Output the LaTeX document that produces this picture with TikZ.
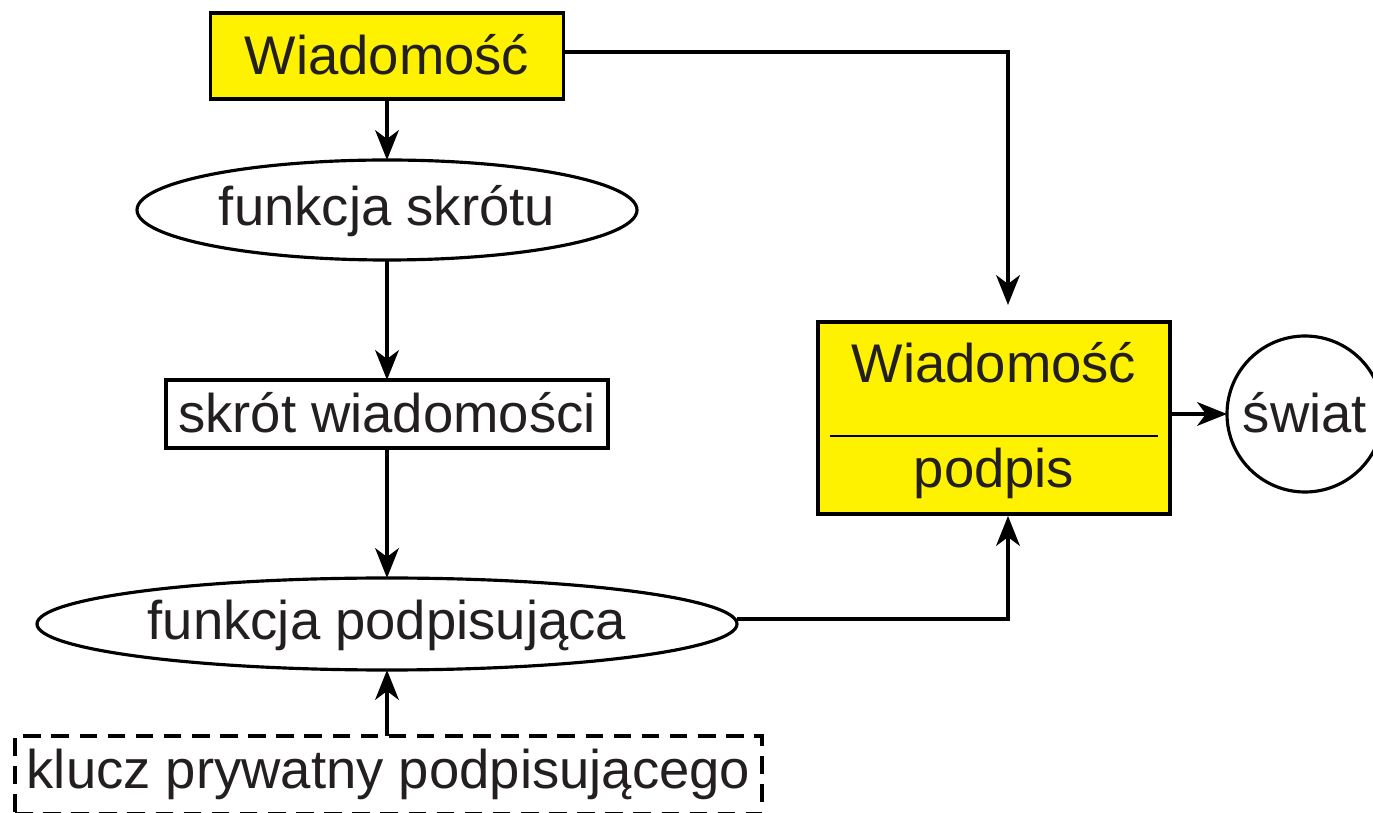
\documentclass[tikz,border=0pt]{standalone}
\usepackage{fontspec}
\setmainfont{Liberation Sans}
\usetikzlibrary{arrows.meta,shapes.geometric}
\definecolor{ink}{RGB}{35,31,32}
\definecolor{msgyellow}{RGB}{255,242,0}
\begin{document}
\begin{tikzpicture}[x=0.02cm, y=-0.02cm,
  every node/.style={inner sep=0pt, outer sep=0pt},
  box/.style={draw=black, line width=1.8pt},
  txt/.style={text=ink, font=\fontsize{31pt}{36pt}\selectfont, anchor=base},
  flow/.style={line width=1.8pt, -{Stealth[length=17pt, width=13.5pt, inset=5pt]}}
]
\useasboundingbox (0,0) rectangle (1373,813);

% message box
\node[box, fill=msgyellow, minimum width=353*0.02cm, minimum height=86*0.02cm] (msg) at (387,56) {};
\node[txt] (msgt) at (387,75) {Wiadomość};

% hash function
\node[box, ellipse, minimum width=500*0.02cm, minimum height=100*0.02cm] (hash) at (387,210) {};
\node[txt] (hasht) at (387,226) {funkcja skrótu};

% message digest
\node[box, minimum width=442*0.02cm, minimum height=68*0.02cm] (dig) at (387,414) {};
\node[txt] (digt) at (387,433) {skrót wiadomości};

% signing function
\node[box, ellipse, minimum width=700*0.02cm, minimum height=92*0.02cm] (sign) at (387,624) {};
\node[txt] (signt) at (387,640) {funkcja podpisująca};

% private key
\node[box, dash pattern=on 10pt off 6pt, minimum width=747*0.02cm, minimum height=78*0.02cm] (key) at (388.5,775) {};
\node[txt] (keyt) at (388.5,788) {klucz prywatny podpisującego};

% signed message
\node[box, fill=msgyellow, minimum width=352*0.02cm, minimum height=192*0.02cm] (signed) at (994,418) {};
\node[txt] (signedm) at (994,383) {Wiadomość};
\node[txt] (signedp) at (994,488) {podpis};
\draw[line width=0.9pt] (830,436) -- (1158,436);

% world
\node[box, circle, minimum size=156*0.02cm] (world) at (1305,414) {};
\node[txt] (worldt) at (1305,433) {świat};

% connectors
\coordinate (msgR) at (563,52);
\coordinate (turnA) at (1008,52);
\coordinate (inA) at (1008,305);
\coordinate (signR) at (737,619);
\coordinate (turnB) at (1008,619);
\coordinate (inB) at (1008,516);

\draw[flow] (msg.south) -- (hash.north);
\draw[flow] (hash.south) -- (dig.north);
\draw[flow] (dig.south) -- (sign.north);
\draw[flow] (key.north -| sign.south) -- (sign.south);
\draw[flow] (msgR) -- (turnA) -- (inA);
\draw[flow] (signR) -- (turnB) -- (inB);
\draw[flow] (signed.east |- world.west) -- (world.west);
\end{tikzpicture}
\end{document}
